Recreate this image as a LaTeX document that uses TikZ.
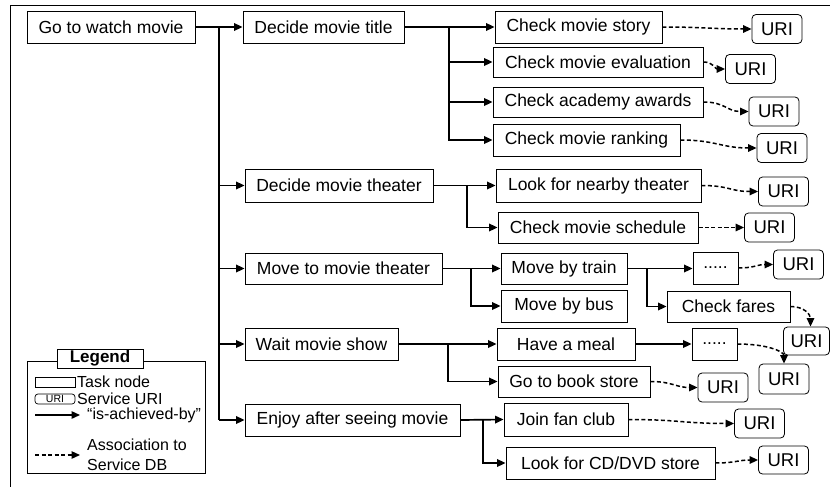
\documentclass[tikz,border=0pt]{standalone}
\usepackage{fontspec}
\setmainfont{Liberation Sans}
\usetikzlibrary{arrows.meta}
\begin{document}
\begin{tikzpicture}[x=1pt,y=-1pt,
  task/.style={draw, line width=0.8pt, inner sep=0pt, font=\fontsize{17.5}{20}\selectfont, minimum height=32pt},
  uri/.style={draw, line width=0.8pt, rounded corners=4pt, inner sep=0pt, minimum width=50pt, minimum height=29pt, font=\fontsize{18.5}{20}\selectfont},
  conn/.style={line width=1.7pt, -{Triangle[length=8.5pt,width=7.5pt]}},
  trunk/.style={line width=2.6pt},
  assoc/.style={line width=1.5pt, dash pattern=on 4pt off 2.5pt, -{Triangle[length=8.5pt,width=7.5pt]}},
  ltext/.style={anchor=west, inner sep=0pt, font=\fontsize{16}{18}\selectfont}
]
\useasboundingbox (0,0) rectangle (830,487);
\clip (0,0) rectangle (830,487);
% outer frame
\coordinate (fbl) at (10,495);
\coordinate (ftr) at (840,5);
\draw[line width=0.8pt] (fbl) |- (ftr);

% level 0/1
\node[task, minimum width=168pt] (T0) at (111,27) {Go to watch movie};
\node[task, minimum width=161pt] (A) at (323.5,27) {Decide movie title};
\node[task, minimum width=188pt, minimum height=33pt] (B) at (339,185.5) {Decide movie theater};
\node[task, minimum width=197pt, minimum height=31pt] (C) at (343.5,268.5) {Move to movie theater};
\node[task, minimum width=153pt] (D) at (321.5,344) {Wait movie show};
\node[task, minimum width=215pt] (E) at (352.5,420) {Enjoy after seeing movie};

% level 2
\node[task, minimum width=167pt] (A1) at (578.5,27) {Check movie story};
\node[task, minimum width=210pt, minimum height=30pt] (A2) at (598,62) {Check movie evaluation};
\node[task, minimum width=210pt, minimum height=30pt] (A3) at (598,102) {Check academy awards};
\node[task, minimum width=187pt] (A4) at (586.5,140) {Check movie ranking};
\node[task, minimum width=205pt, minimum height=33pt] (B1) at (598.5,185.5) {Look for nearby theater};
\node[task, minimum width=200pt, minimum height=31pt] (B2) at (598,227.5) {Check movie schedule};
\node[task, minimum width=126pt, minimum height=31pt] (C1) at (564,268.5) {Move by train};
\node[task, minimum width=126pt] (C2) at (564,306) {Move by bus};
\node[task, minimum width=45pt] (C11) at (715.5,268) {.....};
\node[task, minimum width=123pt, minimum height=31pt] (C12) at (728.5,306.5) {Check fares};
\node[task, minimum width=138pt] (D1) at (566,344) {Have a meal};
\node[task, minimum width=45pt] (D11) at (714.5,344) {.....};
\node[task, minimum width=152pt, minimum height=31pt] (D2) at (574,381.5) {Go to book store};
\node[task, minimum width=124pt, minimum height=33pt] (E1) at (566,419.5) {Join fan club};
\node[task, minimum width=209pt] (E2) at (610.5,463) {Look for CD/DVD store};

% URIs
\node[uri] (U1) at (777,29) {URI};
\node[uri] (U2) at (750.5,69) {URI};
\node[uri] (U3) at (774,111.5) {URI};
\node[uri] (U4) at (782,148) {URI};
\node[uri] (UB1) at (783.5,191.5) {URI};
\node[uri] (UB2) at (769.5,227.5) {URI};
\node[uri] (UC11) at (798.5,264.5) {URI};
\node[uri, minimum width=46pt, minimum height=28pt] (UC12) at (806.5,341) {URI};
\node[uri, minimum height=30pt] (UD11) at (784,379) {URI};
\node[uri] (UD2) at (723,387.5) {URI};
\node[uri] (UE1) at (759.5,423.5) {URI};
\node[uri, minimum height=28pt] (UE2) at (783.5,460) {URI};

% main trunk
\coordinate (t0) at (219,27);
\coordinate (t1) at (219,420);
\draw[trunk] (t0) -- (t1);
\draw[conn] (T0.east) -- (A.west);
\draw[conn] (t0 |- B.west) -- (B.west);
\draw[conn] (t0 |- C.west) -- (C.west);
\draw[conn] (t0 |- D.west) -- (D.west);
\draw[conn] (t1) -- (E.west);

% sub trunks
\coordinate (ta) at (449,27);
\draw[conn] (A.east) -- (A1.west);
\draw[conn] (ta) |- (A2.west);
\draw[conn] (ta) |- (A3.west);
\draw[conn] (ta) |- (A4.west);

\coordinate (tb) at (467,185.5);
\draw[conn] (B.east) -- (B1.west);
\draw[conn] (tb) |- (B2.west);

\coordinate (tc) at (471,268.5);
\draw[conn] (C.east) -- (C1.west);
\draw[conn] (tc) |- (C2.west);

\coordinate (tc1) at (647,268.5);
\draw[conn] (C1.east) -- (tc1) -- (C11.west |- tc1);
\draw[conn] (tc1) |- (C12.west);

\coordinate (td) at (448,344);
\draw[conn] (D.east) -- (D1.west);
\draw[conn] (td) |- (D2.west);
\draw[conn] (D1.east) -- (D11.west);

\coordinate (te) at (483,420);
\draw[conn] (E.east) -- (E1.west);
\draw[conn] (te) |- (E2.west);

% associations
\draw[assoc] (A1.east) .. controls +(40,0) and +(-40,0) .. (U1.west);
\draw[assoc] (A2.east) .. controls +(10,0) and +(-10,0) .. (U2.west);
\draw[assoc] (A3.east) .. controls +(22,0) and +(-22,0) .. (U3.west);
\draw[assoc] (A4.east) .. controls +(35,0) and +(-35,0) .. (U4.west);
\draw[assoc] (B1.east) .. controls +(28,0) and +(-28,0) .. (UB1.west);
\draw[assoc] (B2.east) .. controls +(20,0) and +(-20,0) .. (UB2.west);
\draw[assoc] (C11.east) .. controls +(16,0) and +(-16,0) .. (UC11.west);
\draw[assoc] (C12.east) .. controls +(14,0) and +(0,-12) .. ([xshift=4pt]UC12.north);
\draw[assoc] (D11.east) .. controls +(30,0) and +(0,-12) .. (UD11.north);
\draw[assoc] (D2.east) .. controls +(22,0) and +(-22,0) .. (UD2.west);
\draw[assoc] (E1.east) .. controls +(50,0) and +(-50,0) .. (UE1.west);
\draw[assoc] (E2.east) .. controls +(20,0) and +(-20,0) .. (UE2.west);

% legend
\node[draw, line width=0.8pt, minimum width=178pt, minimum height=112pt, inner sep=0pt] (LG) at (116,417) {};
\node[draw, fill=white, line width=0.8pt, minimum width=86pt, minimum height=19pt, inner sep=0pt, font=\bfseries\fontsize{17}{18}\selectfont] (LT) at (100,358.5) {Legend};
\node[draw, line width=0.7pt, minimum width=40pt, minimum height=10pt, inner sep=0pt] (LK1) at (55,382) {};
\node[ltext] (LK1t) at (77,382) {Task node};
\node[draw, line width=0.7pt, rounded corners=3pt, minimum width=40pt, minimum height=10pt, inner sep=0pt, font=\fontsize{10.5}{11}\selectfont] (LK2) at (55,399) {URI};
\node[ltext] (LK2t) at (77,399) {Service URI};
\coordinate (la1) at (35,415);
\coordinate (la2) at (80,415);
\draw[conn, line width=1.4pt] (la1) -- (la2);
\node[ltext] (LK3t) at (87,415) {“is-achieved-by”};
\coordinate (lb1) at (35,455);
\coordinate (lb2) at (80,455);
\draw[assoc, line width=1.3pt] (lb1) -- (lb2);
\node[ltext, align=left, font=\fontsize{16}{20}\selectfont] (LK4t) at (87,455) {Association to\\Service DB};
\end{tikzpicture}
\end{document}
